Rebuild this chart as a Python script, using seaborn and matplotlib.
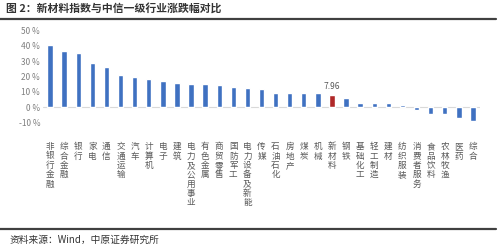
import matplotlib
matplotlib.use("Agg")
import matplotlib.pyplot as plt
import seaborn as sns
import pandas as pd
from matplotlib.lines import Line2D

categories = ["非银行金融", "综合金融", "银行", "家电", "通信", "交通运输", "汽车", "计算机",
              "电子", "建筑", "电力及公用事业", "有色金属", "商贸零售", "国防军工",
              "电力设备及新能", "传媒", "石油石化", "房地产", "煤炭", "机械", "新材料",
              "钢铁", "基础化工", "轻工制造", "建材", "纺织服装", "消费者服务", "食品饮料",
              "农林牧渔", "医药", "综合"]
values = [40.4, 36.5, 35.5, 29.0, 26.3, 21.0, 19.5, 18.3, 17.0, 15.8, 15.4, 15.2, 14.6,
          13.0, 12.6, 12.0, 9.4, 9.3, 9.3, 9.2, 7.96, 6.3, 2.9, 2.9, 2.8, 1.5, -2.0,
          -4.3, -4.4, -7.0, -8.7]
highlight = "新材料"
y_ticks = [50, 40, 30, 20, 10, 0, -10]
title = "图 2：新材料指数与中信一级行业涨跌幅对比"
source = "资料来源：Wind，中原证券研究所"

sns.set_theme(style="white")
plt.rcParams['font.family'] = ['Noto Sans CJK SC', 'DejaVu Sans']
plt.rcParams['axes.unicode_minus'] = False

blue = "#3F71C1"
red = "#B02828"
df = pd.DataFrame({"cat": categories, "val": values})
palette = {c: (red if c == highlight else blue) for c in categories}

fig = plt.figure(figsize=(5.0, 2.46), dpi=100)
ax = fig.add_axes([0.086, 0.501, 0.874, 0.376])
sns.barplot(data=df, x="cat", y="val", hue="cat", palette=palette, legend=False,
            width=0.38, ax=ax, saturation=1)

ax.set_ylim(-10, 50)
ax.set_xlim(-0.5, len(categories) - 0.5)
ax.set_yticks(y_ticks)
ax.set_yticklabels([f"{t} %" for t in y_ticks], fontsize=6, color="#7f7f7f")
ax.set_xticks(range(len(categories)))
ax.set_xticklabels(["\n".join(c) for c in categories], fontsize=6.2, color="#595959",
                   linespacing=1.05, va="top")
ax.tick_params(axis="x", length=0, pad=14)
ax.tick_params(axis="y", length=0, pad=2)
ax.set_xlabel("")
ax.set_ylabel("")
for s in ax.spines.values():
    s.set_visible(False)
ax.axhline(0, color="#d9d9d9", lw=0.8, zorder=0)

idx = categories.index(highlight)
ax.text(idx, values[idx] + 2.5, f"{values[idx]:.2f}", ha="center", va="bottom",
        fontsize=6, color="#595959")

fig.text(0.012, 0.965, title, fontsize=7.8, fontweight="bold", color="#333333",
         ha="left", va="center")
fig.add_artist(Line2D([0.0, 0.992], [0.923, 0.923], transform=fig.transFigure,
                      color="#404040", lw=1.6))
fig.add_artist(Line2D([0.0, 0.992], [0.069, 0.069], transform=fig.transFigure,
                      color="#404040", lw=1.6))
fig.text(0.02, 0.025, source, fontsize=7, color="#333333", ha="left", va="center")

fig.savefig("out.png", dpi=100)
